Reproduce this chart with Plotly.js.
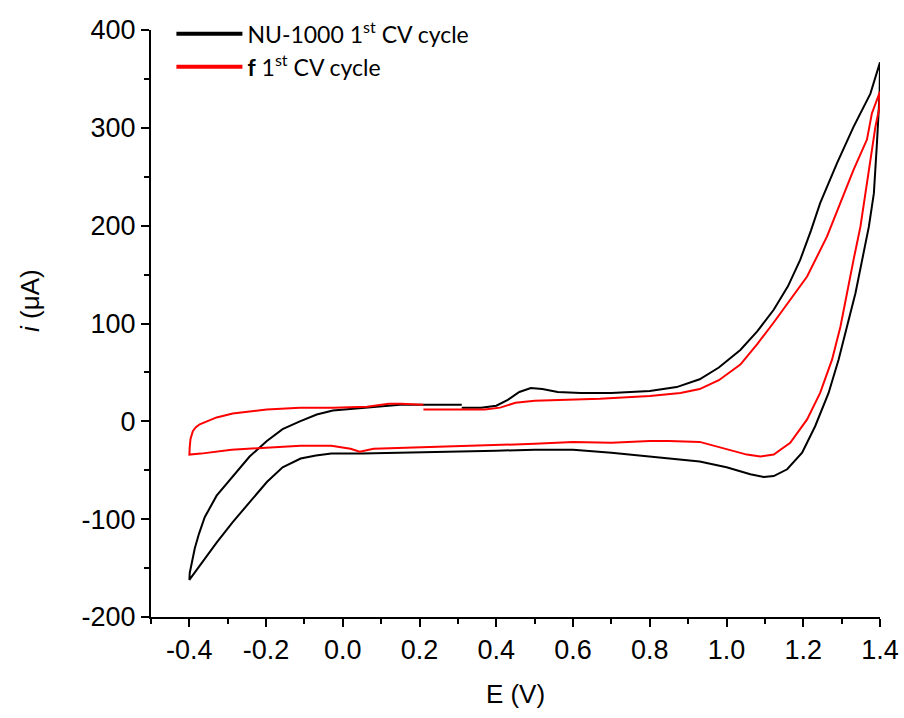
<!DOCTYPE html>
<html>
<head>
<meta charset="utf-8">
<script src="https://cdn.plot.ly/plotly-3.0.1.min.js"></script>
<style>html,body{margin:0;padding:0;background:#fff;}#chart{width:904px;height:718px;}</style>
</head>
<body>
<div id="chart"></div>
<script>
// NU-1000 1st CV cycle (scan order)
const nuE = [0.31, 0.36, 0.40, 0.43, 0.46, 0.49, 0.52, 0.56, 0.62, 0.70, 0.80, 0.87, 0.93, 0.98, 1.036, 1.08, 1.123, 1.16, 1.192, 1.22, 1.244, 1.288, 1.331, 1.375, 1.40,
  1.399, 1.392, 1.384, 1.371, 1.353, 1.336, 1.314, 1.292, 1.266, 1.231, 1.197, 1.158, 1.123, 1.097, 1.062, 1.036, 1.00, 0.93, 0.80, 0.70, 0.60, 0.50, 0.40, 0.30, 0.15, 0.05, -0.03, -0.07, -0.11, -0.157, -0.198, -0.243, -0.287, -0.329, -0.373, -0.40,
  -0.399, -0.394, -0.386, -0.375, -0.36, -0.329, -0.287, -0.243, -0.198, -0.157, -0.112, -0.068, -0.026, 0.063, 0.149, 0.31];
const nuI = [14, 14, 16, 22, 30, 34, 33, 30, 29, 29, 31, 35, 43, 55, 73, 92, 114, 138, 165, 195, 223, 264, 301, 335, 367,
  335, 284, 233, 199, 165, 131, 97, 63, 29, -5, -32, -49, -56, -57, -54, -51, -47, -41, -36, -32, -29, -29, -30, -31, -32, -33, -33, -35, -38, -47, -62, -83, -103, -124, -148, -162,
  -155, -145, -130, -115, -98, -76, -56, -36, -20, -8, 0, 7, 11, 14, 17, 17];

// f 1st CV cycle (scan order)
const fE = [0.21, 0.30, 0.37, 0.41, 0.45, 0.50, 0.58, 0.67, 0.80, 0.88, 0.93, 0.98, 1.036, 1.08, 1.123, 1.166, 1.21, 1.262, 1.297, 1.331, 1.366, 1.379, 1.40,
  1.398, 1.388, 1.375, 1.362, 1.349, 1.331, 1.314, 1.297, 1.275, 1.244, 1.21, 1.166, 1.123, 1.088, 1.053, 1.017, 0.93, 0.85, 0.80, 0.70, 0.60, 0.50, 0.32, 0.15, 0.08, 0.044, 0.02, -0.03, -0.11, -0.20, -0.29, -0.37, -0.40,
  -0.399, -0.397, -0.391, -0.383, -0.373, -0.329, -0.287, -0.198, -0.112, -0.026, 0.063, 0.12, 0.15, 0.21];
const fI = [12, 12, 12, 14, 19, 21, 22, 23, 26, 29, 33, 42, 58, 79, 101, 124, 148, 189, 223, 257, 288, 315, 337,
  320, 301, 267, 233, 199, 165, 131, 97, 63, 29, 2, -22, -34, -36, -34, -30, -21, -20, -20, -22, -21, -23, -25, -27, -28, -31, -28, -25, -25, -27, -29, -33, -34,
  -26, -18, -10, -6, -3, 4, 8, 12, 14, 14, 15, 18, 18, 17];

const xTickVals = [-0.4, -0.2, 0.0, 0.2, 0.4, 0.6, 0.8, 1.0, 1.2, 1.4];
const xTickText = ["-0.4", "-0.2", "0.0", "0.2", "0.4", "0.6", "0.8", "1.0", "1.2", "1.4"];
const yTickVals = [-200, -100, 0, 100, 200, 300, 400];
const yTickText = ["-200", "-100", "0", "100", "200", "300", "400"];

const seriesNames = ["NU-1000 1<sup>st</sup> CV cycle", "<b>f</b> 1<sup>st</sup> CV cycle"];
const seriesColors = ['#000000', '#ff0000'];

const traces = [
  {x: nuE, y: nuI, type: 'scatter', mode: 'lines', name: seriesNames[0], showlegend: false, line: {color: seriesColors[0], width: 2}},
  {x: fE, y: fI, type: 'scatter', mode: 'lines', name: seriesNames[1], showlegend: false, line: {color: seriesColors[1], width: 2}},
  // legend entries (thicker sample lines, as in the reference)
  {x: [null], y: [null], type: 'scatter', mode: 'lines', name: seriesNames[0], showlegend: true, line: {color: seriesColors[0], width: 4}},
  {x: [null], y: [null], type: 'scatter', mode: 'lines', name: seriesNames[1], showlegend: true, line: {color: seriesColors[1], width: 4}}
];

const axisFont = {family: 'Liberation Sans, Arial, sans-serif', size: 27, color: '#000'};
const titleFont = {family: 'Liberation Sans, Arial, sans-serif', size: 26, color: '#000'};

const layout = {
  width: 904, height: 718,
  margin: {l: 151, r: 24, t: 30, b: 101},
  paper_bgcolor: '#fff', plot_bgcolor: '#fff',
  showlegend: true,
  legend: {x: 0.028, y: 1.03, xanchor: 'left', yanchor: 'top', bgcolor: 'rgba(0,0,0,0)', tracegroupgap: 0,
    font: {family: 'Lato, sans-serif', size: 23, color: '#000'}, itemwidth: 66},
  xaxis: {
    range: [-0.5, 1.4], tickmode: 'array', tickvals: xTickVals, ticktext: xTickText,
    showgrid: false, zeroline: false, showline: true, linecolor: '#000', linewidth: 2,
    ticks: 'outside', ticklen: 8, tickwidth: 2, tickcolor: '#000',
    minor: {dtick: 0.1, tick0: -0.5, ticks: 'outside', ticklen: 5, tickwidth: 2, tickcolor: '#000', showgrid: false},
    tickfont: axisFont,
    title: {text: 'E (V)', font: titleFont, standoff: 20}
  },
  yaxis: {
    range: [-200, 400], tickmode: 'array', tickvals: yTickVals, ticktext: yTickText,
    showgrid: false, zeroline: false, showline: true, linecolor: '#000', linewidth: 2,
    ticks: 'outside', ticklen: 8, tickwidth: 2, tickcolor: '#000',
    minor: {dtick: 50, tick0: -200, ticks: 'outside', ticklen: 5, tickwidth: 2, tickcolor: '#000', showgrid: false},
    tickfont: axisFont
  },
  annotations: [{
    text: '<i>i</i> (μA)', xref: 'paper', yref: 'paper', x: -0.166, y: 0.54,
    xanchor: 'center', yanchor: 'middle', textangle: -90, showarrow: false, font: titleFont
  }]
};

Plotly.newPlot('chart', traces, layout, {displayModeBar: false, staticPlot: true});
</script>
</body>
</html>
